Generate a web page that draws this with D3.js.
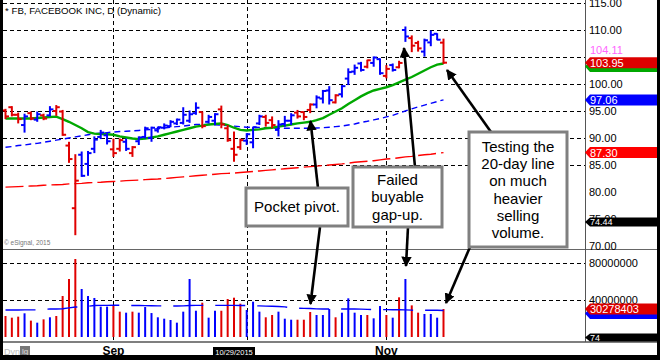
<!DOCTYPE html>
<html><head><meta charset="utf-8">
<script src="https://cdn.jsdelivr.net/npm/d3@7"></script>
<style>body{margin:0;background:#fff}svg{display:block}</style>
</head><body>
<svg id="c" width="660" height="360"></svg>
<script>
// ---------- DATA ----------
const dates = ["2015-08-07","2015-08-10","2015-08-11","2015-08-12","2015-08-13","2015-08-14","2015-08-17","2015-08-18","2015-08-19","2015-08-20","2015-08-21","2015-08-24","2015-08-25","2015-08-26","2015-08-27","2015-08-28","2015-08-31",
"2015-09-01","2015-09-02","2015-09-03","2015-09-04","2015-09-08","2015-09-09","2015-09-10","2015-09-11","2015-09-14","2015-09-15","2015-09-16","2015-09-17","2015-09-18","2015-09-21","2015-09-22","2015-09-23","2015-09-24","2015-09-25","2015-09-28","2015-09-29","2015-09-30",
"2015-10-01","2015-10-02","2015-10-05","2015-10-06","2015-10-07","2015-10-08","2015-10-09","2015-10-12","2015-10-13","2015-10-14","2015-10-15","2015-10-16","2015-10-19","2015-10-20","2015-10-21","2015-10-22","2015-10-23","2015-10-26","2015-10-27","2015-10-28","2015-10-29","2015-10-30",
"2015-11-02","2015-11-03","2015-11-04","2015-11-05","2015-11-06","2015-11-09","2015-11-10","2015-11-11","2015-11-12","2015-11-13"];
const high  = [95.4,95.9,94.7,94.5,94.9,94.9,94.5,95.9,96.1,95.2,89.3,87.0,87.5,87.6,90.3,91.5,90.9,89.9,89.9,89.9,88.5,90.3,92.1,92.1,92.1,92.7,93.3,93.6,95.7,95.1,96.6,94.9,94.3,94.6,96.0,92.4,91.2,89.9,90.9,92.1,94.3,94.3,94.0,93.3,94.1,94.6,95.2,94.9,96.4,97.9,98.9,99.6,98.1,99.8,102.9,103.6,104.1,104.5,105.1,104.75,103.5,103.8,104.3,110.65,109.0,108.0,108.4,109.9,109.4,108.4];
const low   = [93.5,94.0,92.7,91.0,93.3,93.0,93.3,94.0,94.1,90.4,85.4,72.0,82.8,83.0,87.2,89.8,88.8,86.5,87.5,87.6,86.5,88.7,89.9,89.3,91.0,91.6,92.0,92.4,92.5,92.8,94.3,91.8,92.7,92.4,91.8,89.3,85.6,87.8,88.7,88.1,92.4,92.1,91.8,90.3,92.1,92.4,93.6,93.3,94.6,95.5,96.4,96.2,96.4,97.5,99.8,101.7,102.3,102.9,103.2,101.7,101.05,102.3,102.9,107.8,105.9,106.0,105.06,107.0,108.1,103.7];
const open  = [95.1,95.7,94.3,92.4,94.6,93.4,94.2,94.2,95.0,94.9,88.6,77.0,86.9,85.2,88.0,90.2,90.5,87.9,88.0,89.3,87.2,89.4,90.2,90.0,91.4,91.9,92.2,92.7,92.8,93.2,94.6,94.8,93.0,93.2,95.3,91.8,88.0,88.3,89.5,89.2,92.7,93.9,93.3,91.5,92.6,93.2,94.7,94.8,95.2,96.2,97.3,98.8,96.6,98.1,101.0,102.3,103.8,103.2,103.9,104.6,101.5,103.5,103.1,110.0,108.5,107.6,106.0,107.7,109.3,107.66];
const close = [94.0,94.3,93.5,94.0,93.6,94.4,93.6,95.3,95.7,90.6,86.1,82.1,83.0,87.2,89.7,91.0,89.4,87.2,89.6,88.0,88.3,90.1,91.8,91.9,92.0,92.3,93.0,93.4,94.3,94.4,95.6,92.2,93.9,94.4,92.5,89.6,86.9,89.6,90.7,92.0,94.0,92.8,92.4,92.5,93.2,94.2,94.0,93.9,96.2,97.5,98.7,97.0,97.9,99.6,102.2,103.0,102.6,104.4,104.9,102.0,102.8,102.6,103.9,108.8,107.1,106.6,108.1,109.1,108.2,103.95];
const direction = "dddudududddduuuuudduduuuuuuuuuuduudddduuudduuuddduuuduuuuduudududduuudd".split("");
const volume = [22.7,20.9,22.0,25.6,17.7,15.5,19.1,21.3,22.7,44.3,62.7,84.3,51.9,44.3,42.2,32.8,32.8,34.6,27.4,26.3,27.4,26.3,32.4,25.9,21.3,19.8,18.4,15.5,27.4,62.7,28.4,37.1,20.9,28.4,28.4,41.1,42.5,36.0,29.2,38.2,27.4,21.3,23.8,27.4,19.8,18.7,18.7,18.7,27.0,23.8,23.8,30.3,21.3,26.3,41.8,26.3,23.8,23.8,20.2,33.5,23.8,20.9,42.9,62.7,34.2,26.3,24.9,24.9,20.9,30.278403];
const ma20  = [93.6,93.6,93.6,93.6,93.6,93.7,93.8,93.9,93.95,93.5,93.0,92.4,91.8,91.1,90.8,90.75,90.7,90.6,90.3,90.1,89.9,89.8,89.9,90.1,90.3,90.6,90.9,91.2,91.5,91.8,92.1,92.3,92.5,92.6,92.7,92.4,91.9,91.5,91.4,91.5,91.6,91.8,91.9,92.1,92.3,92.5,92.7,92.85,93.0,93.3,93.7,94.3,94.9,95.5,96.3,97.0,97.7,98.3,98.8,99.1,99.4,99.8,100.3,100.8,101.3,101.9,102.5,103.1,103.6,103.8];
const ma50  = [88.3,88.4,88.6,88.7,88.9,89.0,89.2,89.4,89.6,89.8,90.0,90.2,90.4,90.6,90.8,90.9,91.0,91.1,91.2,91.25,91.3,91.4,91.5,91.6,91.7,91.85,92.0,92.1,92.2,92.35,92.5,92.5,92.5,92.45,92.4,92.3,92.2,92.1,92.0,92.0,91.95,91.9,91.85,91.8,91.8,91.8,91.8,91.8,91.8,91.85,91.9,92.0,92.1,92.2,92.4,92.6,92.9,93.1,93.35,93.6,93.9,94.2,94.6,95.0,95.4,95.75,96.1,96.4,96.75,97.06];
const ma200 = [80.9,80.95,81.0,81.05,81.1,81.15,81.25,81.3,81.35,81.4,81.5,81.55,81.6,81.7,81.75,81.8,81.9,81.95,82.0,82.1,82.15,82.2,82.3,82.35,82.4,82.5,82.6,82.7,82.8,82.9,83.0,83.1,83.2,83.3,83.4,83.45,83.5,83.6,83.7,83.8,83.9,84.0,84.1,84.2,84.3,84.4,84.5,84.6,84.7,84.8,84.9,85.0,85.1,85.2,85.35,85.5,85.6,85.7,85.8,85.95,86.1,86.2,86.35,86.5,86.6,86.75,86.9,87.0,87.15,87.3];
const volMA = [29.2,29.2,29.2,29.3,29.3,29.4,30.0,30.2,30.3,30.5,31.5,32.4,32.6,33.2,34.0,34.2,34.2,34.3,34.3,34.2,34.1,34.0,33.9,33.8,33.7,33.6,33.5,33.5,33.6,34.0,34.2,34.2,34.2,34.2,34.2,34.2,34.2,34.1,34.0,33.8,33.6,33.4,33.2,33.0,32.6,31.5,31.2,31.0,30.8,30.4,30.3,30.3,30.3,30.3,30.3,30.3,30.1,29.9,29.7,29.6,29.6,29.5,29.5,29.3,29.0,28.9,28.9,28.9,28.9,28.6];
const priceTicks = [115,110,100,95,90,85,80,75,70];
const priceGrid = [115,110,105,100,95,90,85];
const volTicks = [80000000,40000000];
const monthGrid = ["2015-09-01","2015-10-01","2015-11-02"];
const monthLabels = [["2015-09-01","Sep"],["2015-11-02","Nov"]];
const title = "* FB, FACEBOOK INC, D (Dynamic)";
const notes = [
  {lines:["Pocket pivot."], box:[246,188,348,226]},
  {lines:["Failed","buyable","gap-up."], box:[353,167,442,227]},
  {lines:["Testing the","20-day line","on much","heavier","selling","volume."], box:[469,132,567,247]}
];

// ---------- CHART ----------
const svg = d3.select("#c");
const FONT = "'Liberation Sans', Arial, sans-serif";
const x = d3.scalePoint().domain(dates).range([5.5, 443.5]);
const y = d3.scaleLinear().domain([70,115]).range([246,3]);
const vy = d3.scaleLinear().domain([0,80000000]).range([337,263]);
const AX = 585;
const BLUE="#0000ff", RED="#e00000";

// gridlines
svg.append("g").selectAll("line").data(priceGrid).join("line")
  .attr("x1",3).attr("x2",AX).attr("y1",d=>Math.round(y(d))+0.5).attr("y2",d=>Math.round(y(d))+0.5)
  .attr("stroke","#000").attr("stroke-dasharray","4,3");
svg.append("g").selectAll("line").data(volTicks).join("line")
  .attr("x1",3).attr("x2",AX).attr("y1",d=>Math.round(vy(d))+0.5).attr("y2",d=>Math.round(vy(d))+0.5)
  .attr("stroke","#000").attr("stroke-dasharray","4,3");
svg.append("g").selectAll("line").data(monthGrid).join("line")
  .attr("x1",d=>Math.round(x(d))+0.5).attr("x2",d=>Math.round(x(d))+0.5).attr("y1",0).attr("y2",342)
  .attr("stroke","#000").attr("stroke-dasharray","4,3");

// panel lines
svg.append("line").attr("x1",0).attr("x2",660).attr("y1",249.5).attr("y2",249.5).attr("stroke","#666");
svg.append("line").attr("x1",0).attr("x2",660).attr("y1",342).attr("y2",342).attr("stroke","#555").attr("stroke-width",1.5);
svg.append("line").attr("x1",AX+0.5).attr("x2",AX+0.5).attr("y1",0).attr("y2",342).attr("stroke","#555");

// moving averages
const lineGen = arr => d3.line().x((d,i)=>x(dates[i])).y(d=>y(d))(arr);
svg.append("path").attr("d",lineGen(ma200)).attr("fill","none").attr("stroke","#ff0000").attr("stroke-width",1.4).attr("stroke-dasharray","18,5");
svg.append("path").attr("d",lineGen(ma50)).attr("fill","none").attr("stroke",BLUE).attr("stroke-width",1.4).attr("stroke-dasharray","6,4");
svg.append("path").attr("d",lineGen(ma20)).attr("fill","none").attr("stroke","#00a800").attr("stroke-width",2.4);

// price bars
const bars = svg.append("g").selectAll("g").data(dates).join("g")
  .attr("stroke",(d,i)=>direction[i]==="u"?BLUE:RED).attr("stroke-width",2);
bars.append("line").attr("x1",d=>x(d)).attr("x2",d=>x(d)).attr("y1",(d,i)=>y(high[i])).attr("y2",(d,i)=>y(low[i]));
bars.append("line").attr("x1",d=>x(d)-3.5).attr("x2",d=>x(d)).attr("y1",(d,i)=>y(open[i])).attr("y2",(d,i)=>y(open[i]));
bars.append("line").attr("x1",d=>x(d)).attr("x2",d=>x(d)+3.5).attr("y1",(d,i)=>y(close[i])).attr("y2",(d,i)=>y(close[i]));

// volume
svg.append("g").selectAll("line").data(dates).join("line")
  .attr("x1",d=>x(d)).attr("x2",d=>x(d)).attr("y1",vy(0)).attr("y2",(d,i)=>vy(volume[i]*1e6))
  .attr("stroke",(d,i)=>direction[i]==="u"?BLUE:RED).attr("stroke-width",2);
svg.append("path").attr("d",d3.line().x((d,i)=>x(dates[i])).y(d=>vy(d*1e6))(volMA))
  .attr("fill","none").attr("stroke",BLUE).attr("stroke-width",1.4).attr("stroke-dasharray","30,12");

// axes
const gy = svg.append("g").attr("transform",`translate(${AX},0)`)
  .call(d3.axisRight(y).tickValues(priceTicks).tickSize(0).tickPadding(4).tickFormat(d3.format(".2f")));
const gv = svg.append("g").attr("transform",`translate(${AX},0)`)
  .call(d3.axisRight(vy).tickValues(volTicks).tickSize(0).tickPadding(4).tickFormat(d3.format("d")));
[gy,gv].forEach(g=>{g.select(".domain").remove();
  g.selectAll("text").attr("font-size",11).attr("font-family",FONT).attr("fill","#000");});

// value tags
function tag(yc, txt, fill, fs, h){
  h = h||11;
  const g = svg.append("g");
  g.append("path").attr("d",`M${AX},${yc} L${AX+5},${yc-h/2} L657,${yc-h/2} L657,${yc+h/2} L${AX+5},${yc+h/2} Z`).attr("fill",fill);
  if(txt) g.append("text").attr("x",AX+5).attr("y",yc).attr("dy","0.36em").attr("font-size",fs||11)
    .attr("font-family",FONT).attr("fill","#fff").text(txt);
}
tag(y(ma20[ma20.length-1])+3, "", "#00a800");
tag(y(close[close.length-1]), d3.format(".2f")(close[close.length-1]), "#dd0000");
svg.append("text").attr("x",AX+5).attr("y",50).attr("dy","0.36em").attr("font-size",11).attr("font-family",FONT)
  .attr("fill","#ff66ff").text("104.11");
tag(y(ma50[ma50.length-1]), d3.format(".2f")(ma50[ma50.length-1]), BLUE);
tag(y(ma200[ma200.length-1]), d3.format(".2f")(ma200[ma200.length-1]), "#ff0000");
tag(y(74.44), "74.44", "#000", 9, 9);
tag(vy(volMA[volMA.length-1]*1e6)+3, "", BLUE);
tag(vy(volume[volume.length-1]*1e6), "30278403", "#dd0000");
tag(337.5, "74", "#000", 9, 8);

// x labels
svg.append("g").selectAll("text").data(monthLabels).join("text")
  .attr("x",d=>x(d[0])).attr("y",355).attr("text-anchor","middle").attr("font-size",12).attr("font-weight","bold")
  .attr("font-family",FONT).attr("fill","#000").text(d=>d[1]);
svg.append("rect").attr("x",213).attr("y",347).attr("width",42).attr("height",9.5).attr("fill","#000");
svg.append("text").attr("x",234).attr("y",352).attr("dy","0.35em").attr("text-anchor","middle").attr("font-size",7.5)
  .attr("font-family",FONT).attr("fill","#fff").text("10/29/2015");
svg.append("text").attr("x",4).attr("y",355).attr("font-size",9).attr("font-family",FONT).attr("fill","#bbb").text("Dyn");
svg.append("rect").attr("x",20).attr("y",346).attr("width",10).attr("height",9).attr("fill","#777");
svg.append("text").attr("x",25).attr("y",354).attr("text-anchor","middle").attr("font-size",8).attr("font-family",FONT).attr("fill","#ddd").text("lg");

// title & copyright
svg.append("text").attr("x",5).attr("y",14).attr("font-size",9.7).attr("font-family",FONT).attr("fill","#000").text(title);
svg.append("text").attr("x",4).attr("y",245).attr("font-size",6.5).attr("font-family",FONT).attr("fill","#777").text("© eSignal, 2015");

// annotations
const defs = svg.append("defs");
defs.append("marker").attr("id","ah").attr("viewBox","0 0 10 10").attr("refX",9).attr("refY",5)
  .attr("markerWidth",4).attr("markerHeight",4).attr("orient","auto")
  .append("path").attr("d","M0,0 L10,5 L0,10 Z").attr("fill","#000");
const arrows = [[318,188,310.5,121],[320,227,310.5,304],[415,167,404,48],[408,227,406,266],[491,132,447,70],[470,247,446,303]];
svg.append("g").selectAll("line").data(arrows).join("line")
  .attr("x1",d=>d[0]).attr("y1",d=>d[1]).attr("x2",d=>d[2]).attr("y2",d=>d[3])
  .attr("stroke","#000").attr("stroke-width",2.6).attr("marker-end","url(#ah)");
const ng = svg.append("g").selectAll("g").data(notes).join("g");
ng.append("rect").attr("x",d=>d.box[0]).attr("y",d=>d.box[1]).attr("width",d=>d.box[2]-d.box[0]).attr("height",d=>d.box[3]-d.box[1])
  .attr("fill","#fff").attr("stroke","#808080").attr("stroke-width",3);
ng.each(function(d){
  const cx=(d.box[0]+d.box[2])/2, cy=(d.box[1]+d.box[3])/2, lh=17.3;
  d3.select(this).selectAll("text").data(d.lines).join("text")
    .attr("x",cx).attr("y",(t,i)=>cy+(i-(d.lines.length-1)/2)*lh).attr("dy","0.36em")
    .attr("text-anchor","middle").attr("font-size",15).attr("font-family",FONT).attr("fill","#000").text(t=>t);
});

// frame bands
svg.append("rect").attr("x",0).attr("y",0).attr("width",3).attr("height",360).attr("fill","#000");
svg.append("rect").attr("x",657).attr("y",0).attr("width",3).attr("height",360).attr("fill","#000");
svg.append("rect").attr("x",0).attr("y",355).attr("width",660).attr("height",5).attr("fill","#000");
</script>
</body></html>
